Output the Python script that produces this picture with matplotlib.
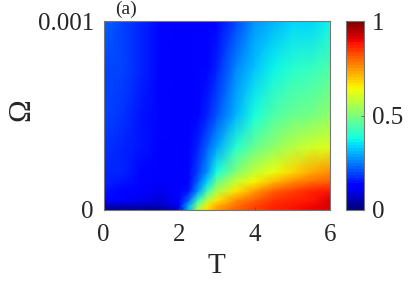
import numpy as np
import matplotlib.pyplot as plt


plt.rcParams.update({"font.family": ["Liberation Serif", "DejaVu Serif"],
                     "font.size": 18})

T = [0, 0.5, 1, 1.5, 2, 2.25, 2.5, 2.75, 3, 3.5, 4, 4.5, 5, 5.5, 6]
omega = [0, 0.00002, 0.00005, 0.0001, 0.00015, 0.0002, 0.00033, 0.0005, 0.00075, 0.001]
# rows go from omega=0 up to omega=0.001
coverage = [
    [.02, .02, .02, .02, .05, .30, .55, .68, .74, .80, .84, .86, .88, .90, .92],
    [.06, .06, .06, .06, .10, .30, .52, .66, .73, .79, .83, .86, .88, .90, .92],
    [.11, .11, .10, .09, .11, .22, .42, .57, .67, .76, .81, .85, .87, .89, .91],
    [.15, .14, .12, .10, .11, .15, .28, .43, .56, .67, .74, .80, .84, .87, .88],
    [.16, .15, .13, .11, .11, .14, .22, .33, .47, .58, .65, .71, .76, .79, .81],
    [.17, .16, .14, .12, .11, .13, .19, .28, .38, .50, .58, .63, .68, .72, .75],
    [.18, .17, .15, .12, .11, .12, .16, .22, .29, .40, .48, .53, .57, .60, .62],
    [.19, .18, .15, .13, .12, .12, .14, .17, .21, .31, .39, .44, .47, .49, .52],
    [.20, .19, .16, .13, .12, .12, .13, .14, .17, .25, .32, .37, .40, .42, .44],
    [.22, .20, .16, .13, .11, .11, .11, .12, .13, .20, .27, .30, .33, .34, .36],
]

fig = plt.figure(figsize=(4.15, 2.82), dpi=100)
ax = fig.add_axes([103.5/415, 1-210/282, 226.5/415, 189/282])
cax = fig.add_axes([345.5/415, 1-210/282, 18.5/415, 189/282])

cmap = plt.get_cmap("jet", 64)
mesh = ax.pcolormesh(T, omega, coverage, cmap=cmap, vmin=0, vmax=1, shading="gouraud")
ax.set_xlim(0, 6)
ax.set_ylim(0, 0.001)
ax.set_xticks([0, 2, 4, 6])
ax.set_yticks([0, 0.001])
ax.set_yticklabels(["0", "0.001"])
ax.tick_params(direction="in", length=2, width=0.5, color="#444444", labelcolor="#262626")
ax.tick_params(axis="x", pad=10)
ax.tick_params(axis="y", pad=7)
for s in ax.spines.values():
    s.set_color("#777777")
    s.set_linewidth(0.8)
fig.text(216/415, 1-266/282, "T", fontsize=21, color="#262626", ha="center", va="center")
fig.text(22/415, 1-110/282, "\u03a9", fontsize=22, color="#262626", ha="center", va="center", rotation=90)
fig.text(115/415, 1-9/282, "(a)", fontsize=14, color="#262626", ha="left", va="center")

cb = fig.colorbar(plt.cm.ScalarMappable(norm=mesh.norm, cmap=cmap), cax=cax)
cb.set_ticks([0, 0.5, 1])
cb.set_ticklabels(["0", "0.5", "1"])
cb.ax.tick_params(direction="in", length=2, width=0.5, color="#444444", labelcolor="#262626", pad=6)
cb.outline.set_edgecolor("#777777")
cb.outline.set_linewidth(0.8)

fig.savefig("out.png", dpi=100)
